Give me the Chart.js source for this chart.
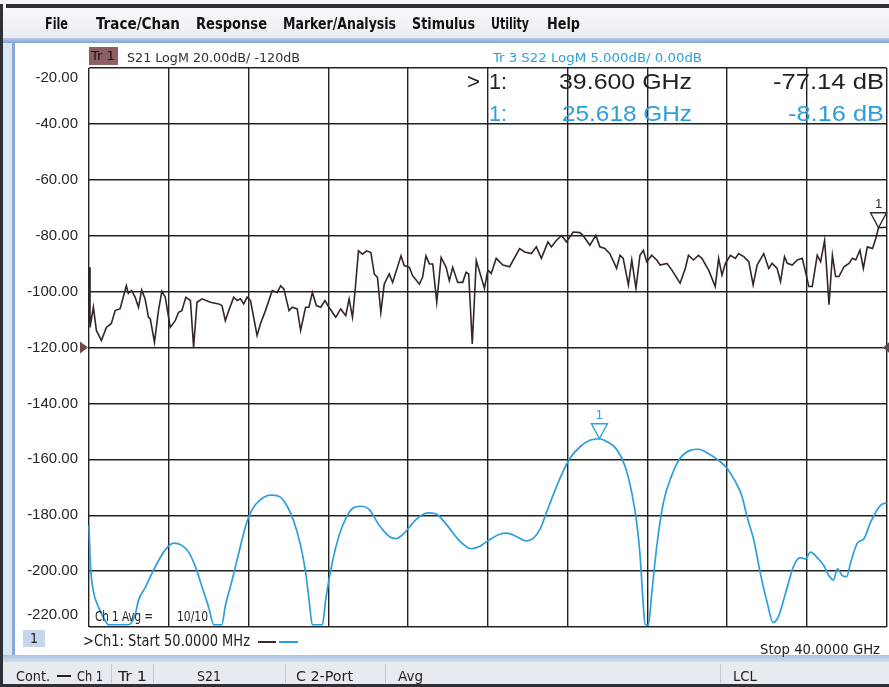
<!DOCTYPE html>
<html><head><meta charset="utf-8">
<script src="https://cdn.jsdelivr.net/npm/chart.js@4.4.1/dist/chart.umd.min.js"></script>
<style>
html,body{margin:0;padding:0;width:889px;height:687px;overflow:hidden;background:#f3f5f8;}
#wrap{position:relative;width:889px;height:687px;}
.b{position:absolute;}
canvas{position:absolute;left:0;top:0;z-index:5;}
.t{position:absolute;white-space:nowrap;transform-origin:0 50%;line-height:1;z-index:10;font-family:"Liberation Sans",Arial,sans-serif;}
</style></head><body>
<div id="wrap">
  <div class="b" style="left:6px;top:4px;width:883px;height:4px;background:#2d3036"></div>
  <div class="b" style="left:0;top:4px;width:3px;height:683px;background:#2d3036"></div>
  <div class="b" style="left:3px;top:8px;width:886px;height:30px;background:linear-gradient(#f7f8fa,#e9ecf1)"></div>
  <div class="b" style="left:3px;top:38px;width:886px;height:5px;background:linear-gradient(#b9cde8,#7fa3d3)"></div>
  <div class="b" style="left:3px;top:43px;width:12px;height:613px;background:#dce7f4"></div>
  <div class="b" style="left:12px;top:43px;width:3px;height:613px;background:#88a8d6"></div>
  <div class="b" style="left:15px;top:43px;width:874px;height:613px;background:#ffffff"></div>
  <div class="b" style="left:3px;top:655px;width:886px;height:7px;background:linear-gradient(#a9c1e2,#d3deee)"></div>
  <div class="b" style="left:3px;top:662px;width:886px;height:22px;background:#e7eaef"></div>
  <div class="b" style="left:0;top:684px;width:889px;height:3px;background:#2d3036"></div>
  <div class="b" style="left:111px;top:664px;width:1px;height:19px;background:#c4c8cf"></div>
  <div class="b" style="left:153px;top:664px;width:1px;height:19px;background:#c4c8cf"></div>
  <div class="b" style="left:285px;top:664px;width:1px;height:19px;background:#c4c8cf"></div>
  <div class="b" style="left:385px;top:664px;width:1px;height:19px;background:#c4c8cf"></div>
  <div class="b" style="left:720px;top:664px;width:1px;height:19px;background:#c4c8cf"></div>
  <div class="b" style="left:89px;top:47px;width:29px;height:18px;background:#8c5f63;z-index:6"></div>
  <div class="b" style="left:23px;top:630px;width:22px;height:17px;background:#c6d6ec;z-index:6"></div>
  <div class="b" style="left:258px;top:641px;width:18px;height:2px;background:#3b2a2c;z-index:6"></div>
  <div class="b" style="left:279px;top:641px;width:19px;height:2px;background:#2b9fdc;z-index:6"></div>
  <div class="b" style="left:57px;top:675px;width:14px;height:2px;background:#222;z-index:6"></div>
  <canvas id="c" width="889" height="687"></canvas>
</div>
<script>
// ---- data ----
const freqS21 = [0.05,0.10,0.27,0.42,0.67,0.92,1.17,1.36,1.61,1.92,2.02,2.18,2.36,2.53,2.69,2.86,3.03,3.12,3.33,3.53,3.70,3.87,4.12,4.37,4.54,4.70,4.90,5.13,5.29,5.46,5.71,6.13,6.55,6.71,6.88,7.05,7.30,7.47,7.64,7.80,7.97,8.14,8.47,8.64,8.89,9.23,9.48,9.65,9.81,10.07,10.23,10.48,10.65,10.90,11.07,11.24,11.44,11.66,11.87,12.07,12.41,12.66,12.91,13.08,13.25,13.38,13.55,13.75,13.95,14.17,14.34,14.50,14.67,14.84,15.09,15.26,15.68,15.84,16.10,16.26,16.60,16.76,16.93,17.10,17.27,17.47,17.69,17.94,18.10,18.27,18.52,18.77,18.94,19.07,19.25,19.45,
  19.86,20.03,20.20,20.45,20.78,21.12,21.62,21.87,22.21,22.46,22.71,23.04,23.21,23.46,23.72,23.97,24.30,24.64,24.80,25.14,25.44,25.64,25.89,26.14,26.48,26.65,26.81,27.07,27.24,27.45,27.65,27.82,27.99,28.24,28.49,28.66,29.00,29.25,29.66,29.92,30.08,30.33,30.58,30.75,31.09,31.42,31.59,31.76,31.93,32.18,32.43,32.59,32.85,33.10,33.32,33.52,33.85,34.10,34.27,34.52,34.69,34.89,35.03,35.28,35.53,35.78,35.94,36.11,36.28,36.53,36.70,36.90,37.00,37.12,37.29,37.45,37.62,37.87,38.12,38.29,38.46,38.67,38.84,39.04,39.30,39.46,39.60,40.00];
const s21dB = [-91.3,-112.8,-105.6,-113.9,-117.5,-112.8,-111.4,-106.8,-106.1,-97.9,-100.7,-99.6,-102.0,-105.6,-99.4,-102.6,-109.2,-109.8,-118.1,-106.8,-99.9,-102.0,-112.8,-110.4,-107.4,-106.8,-102.0,-103.2,-119.9,-103.8,-102.6,-103.8,-104.4,-105.0,-110.4,-106.8,-102.0,-103.2,-102.6,-104.4,-102.0,-103.2,-115.7,-111.5,-106.8,-99.6,-100.3,-97.9,-99.0,-106.8,-105.6,-106.2,-113.9,-105.6,-105.6,-100.3,-105.0,-105.6,-103.2,-105.6,-109.2,-106.2,-108.6,-102.6,-109.2,-99.6,-85.4,-86.6,-85.4,-86.0,-93.7,-94.9,-107.4,-97.3,-93.7,-96.7,-87.2,-90.7,-91.3,-94.3,-97.3,-94.9,-87.2,-90.1,-90.1,-103.8,-87.8,-91.3,-96.1,-91.3,-96.7,-96.7,-93.1,-93.7,-118.7,-88.9,
  -98.8,-92.3,-93.5,-88.1,-90.5,-91.1,-84.6,-85.8,-86.4,-84.0,-88.1,-82.2,-84.0,-81.7,-79.9,-82.2,-78.7,-78.9,-79.9,-83.4,-79.9,-84.0,-84.6,-86.4,-91.7,-87.0,-88.1,-97.6,-88.7,-98.8,-87.0,-85.2,-89.3,-87.0,-88.7,-90.5,-89.9,-92.3,-97.0,-91.7,-87.0,-88.7,-87.0,-88.1,-92.3,-98.2,-88.1,-94.1,-89.9,-87.0,-88.1,-86.4,-87.5,-89.3,-97.6,-90.5,-86.4,-91.7,-89.9,-91.7,-96.4,-87.5,-89.9,-90.5,-88.7,-88.1,-92.8,-98.2,-98.2,-87.0,-89.3,-81.7,-91.7,-104.7,-87.0,-94.6,-94.6,-91.1,-89.9,-88.1,-88.7,-85.2,-91.7,-84.0,-84.6,-81.1,-77.14,-77.0];
const freqS22 = [0.05,0.12,0.27,0.52,0.85,1.02,2.02,2.36,2.53,2.86,3.37,3.87,4.29,4.70,5.04,5.38,5.71,6.04,6.30,6.70,6.88,7.22,7.55,7.89,8.22,8.64,9.15,9.56,9.98,10.32,10.65,10.90,11.07,11.24,11.74,11.91,12.24,12.58,12.91,13.25,13.67,14.09,14.59,15.09,15.43,15.84,16.43,17.01,17.44,17.94,18.61,19.20,19.61,20.11,20.62,20.95,21.46,21.96,22.29,22.63,22.96,23.30,23.72,24.14,24.64,25.14,25.618,25.98,26.48,26.90,27.24,27.49,27.66,27.79,27.91,28.07,28.24,28.49,28.82,29.25,29.66,30.17,30.58,31.09,31.59,32.01,32.43,32.76,33.01,33.35,33.68,34.02,34.32,34.60,34.94,35.36,35.69,35.94,36.19,36.53,36.86,37.11,37.34,37.54,37.79,38.00,38.21,38.54,38.87,39.21,39.71,40.00];
const s22dB = [-15.9,-19.4,-21.8,-23.2,-24.4,-24.8,-24.8,-23.9,-22.6,-21.5,-19.6,-18.1,-17.5,-17.7,-18.3,-19.6,-21.4,-23.2,-24.8,-24.8,-23.1,-20.8,-18.4,-16.0,-14.5,-13.6,-13.2,-13.3,-14.2,-15.6,-17.7,-20.1,-22.5,-24.8,-24.8,-22.5,-19.2,-16.8,-15.3,-14.4,-14.2,-14.5,-15.9,-16.9,-17.1,-16.6,-15.4,-14.8,-14.9,-15.8,-17.3,-18.0,-17.8,-17.2,-16.7,-16.6,-16.9,-17.3,-17.1,-16.3,-14.8,-13.2,-11.4,-9.9,-8.9,-8.3,-8.16,-8.4,-9.1,-10.6,-13.0,-15.7,-18.7,-22.3,-24.8,-24.8,-22.0,-17.8,-13.9,-11.4,-9.9,-9.2,-9.1,-9.5,-10.1,-10.8,-12.0,-13.3,-15.1,-17.2,-20.2,-22.8,-24.6,-24.0,-22.0,-19.5,-18.8,-18.9,-18.3,-18.8,-19.5,-20.4,-20.8,-19.8,-20.4,-20.5,-19.2,-17.5,-17.1,-15.6,-14.1,-13.9];
const yTicksS21 = [-220,-200,-180,-160,-140,-120,-100,-80,-60,-40,-20];
const xGridGHz = [0.05,4.045,8.04,12.035,16.03,20.025,24.02,28.015,32.01,36.005,40];
const markerFreq = [39.6, 25.618];
const markerDB = [-77.14, -8.16];

// ---- UI text (layout) ----
const uiText = [
  ['File',45,24,23,16,'#111','bold','n'],['Trace/Chan',96,24,84,16,'#111','bold','n'],['Response',196,24,71,16,'#111','bold','n'],
  ['Marker/Analysis',283,24,113,16,'#111','bold','n'],['Stimulus',412,24,63,16,'#111','bold','n'],['Utility',491,24,38,16,'#111','bold','n'],['Help',547,24,33,16,'#111','bold','n'],
  ['Tr 1',91,56,24,12,'#1e1416','normal','n'],
  ['S21 LogM 20.00dB/  -120dB',127,57,173,13,'#3a2a2c','normal','n'],
  ['Tr 3   S22 LogM 5.000dB/  0.00dB',493,57,209,13,'#2b9fdc','normal','n'],
  ['>',467,82,13,22,'#222','normal','r'],['1:',489,82,18,22,'#222','normal','r'],['39.600 GHz',559,82,133,22,'#222','normal','r'],['-77.14 dB',773,82,111,22,'#222','normal','r'],
  ['1:',489,114,18,22,'#2b9fdc','normal','r'],['25.618 GHz',562,114,130,22,'#2b9fdc','normal','r'],['-8.16 dB',788,114,96,22,'#2b9fdc','normal','r'],
  ['Ch 1 Avg =',95,616,58,14,'#222','normal','n'],['10/10',177,616,31,14,'#222','normal','n'],
  ['1',30,638,8,14,'#222','normal','n'],
  ['>Ch1: Start  50.0000 MHz',83,641,167,15,'#222','normal','n'],
  ['Stop 40.0000 GHz',760,649,120,14,'#222','normal','n'],
  ['Cont.',16,676,34,14,'#222','normal','n'],['Ch 1',77,676,26,14,'#222','normal','n'],['Tr 1',118,676,29,14,'#222','normal','n'],
  ['S21',197,676,24,14,'#222','normal','n'],['C 2-Port',296,676,57,14,'#222','normal','n'],['Avg',398,676,25,14,'#222','normal','n'],['LCL',733,676,24,14,'#222','normal','n']
];
const wrap = document.getElementById('wrap');
uiText.forEach(([txt,l,cy,w,sz,col,wt,fam])=>{
  const d=document.createElement('div'); d.className='t'; d.textContent=txt;
  d.style.left=l+'px'; d.style.top=(cy-sz/2)+'px'; d.style.fontSize=sz+'px'; d.style.color=col; d.style.fontWeight=wt;
  if(fam==='n') d.style.fontFamily='"Liberation Sans Narrow","DejaVu Sans Condensed","Liberation Sans",Arial,sans-serif';
  wrap.appendChild(d);
  const r=d.getBoundingClientRect().width; if(r>0) d.style.transform='scaleX('+(w/r)+')';
});

const S21C='#35252a', S22C='#2b9fdc';
const overlay = {
  id:'overlay',
  afterDraw(chart){
    const {ctx, chartArea:a, scales} = chart; const x=scales.x, y=scales.y, y2=scales.y2;
    ctx.save();
    ctx.font='15px "Liberation Sans", Arial, sans-serif'; ctx.fillStyle='#262626';
    ctx.textAlign='right'; ctx.textBaseline='middle';
    yTicksS21.forEach((v,i)=>{
      let py=y.getPixelForValue(v);
      if(i===yTicksS21.length-1) py=a.top+10; if(i===0) py=a.bottom-12;
      ctx.fillText(v.toFixed(2),78,py);
    });
    // reference arrows
    let py=y.getPixelForValue(-120);
    ctx.fillStyle='#6e4a4d'; ctx.beginPath(); ctx.moveTo(a.left-9,py-6); ctx.lineTo(a.left-9,py+6); ctx.lineTo(a.left-1,py); ctx.closePath(); ctx.fill();
    py=y2.getPixelForValue(0);
    ctx.fillStyle='#5a4a4c'; ctx.beginPath(); ctx.moveTo(890,py-6); ctx.lineTo(890,py+6); ctx.lineTo(883,py); ctx.closePath(); ctx.fill();
    // markers
    const cols=[S21C,S22C], axes=[y,y2];
    markerFreq.forEach((f,i)=>{
      const px=x.getPixelForValue(f), pyy=axes[i].getPixelForValue(markerDB[i]);
      ctx.strokeStyle=cols[i]; ctx.lineWidth=1.4;
      ctx.beginPath(); ctx.moveTo(px,pyy); ctx.lineTo(px-8,pyy-15); ctx.lineTo(px+8,pyy-15); ctx.closePath(); ctx.stroke();
      ctx.fillStyle=cols[i]; ctx.font='13px "Liberation Sans", Arial, sans-serif'; ctx.textAlign='center';
      ctx.fillText('1',px,pyy-23);
    });
    ctx.restore();
  }
};

const gridOpt={color:'#222',lineWidth:1.4,drawTicks:false};
new Chart(document.getElementById('c'),{
  type:'line',
  data:{datasets:[
    {label:'S21',data:freqS21.map((f,i)=>({x:f,y:s21dB[i]})),borderColor:S21C,borderWidth:1.6,pointRadius:0,tension:0,yAxisID:'y'},
    {label:'S22',data:freqS22.map((f,i)=>({x:f,y:s22dB[i]})),borderColor:S22C,borderWidth:1.7,pointRadius:0,cubicInterpolationMode:'monotone',yAxisID:'y2',clip:3}
  ]},
  options:{
    responsive:false,animation:false,devicePixelRatio:1,
    layout:{padding:{left:89,top:68,right:2.5,bottom:60}},
    plugins:{legend:{display:false},tooltip:{enabled:false}},
    scales:{
      x:{type:'linear',min:0.05,max:40,afterBuildTicks:s=>{s.ticks=xGridGHz.map(v=>({value:v}));},
         ticks:{display:false},grid:gridOpt,border:{display:false},afterFit:s=>{s.height=0;}},
      y:{type:'linear',min:-220,max:-20,afterBuildTicks:s=>{s.ticks=yTicksS21.map(v=>({value:v}));},
         ticks:{display:false},grid:gridOpt,border:{display:false},afterFit:s=>{s.width=0;}},
      y2:{type:'linear',min:-25,max:25,display:false}
    }
  },
  plugins:[overlay]
});
</script>
</body></html>
